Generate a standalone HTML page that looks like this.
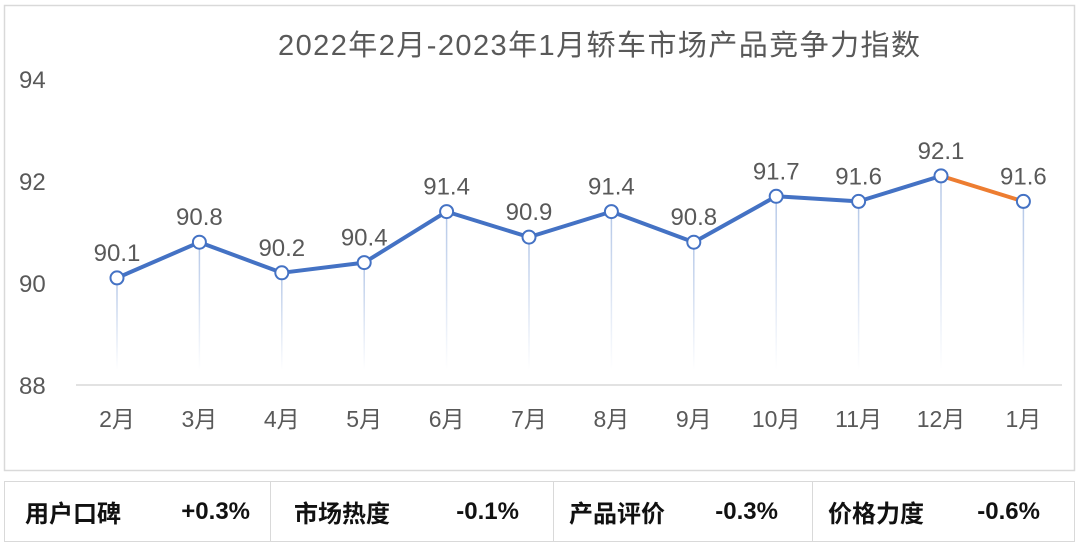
<!DOCTYPE html><html><head><meta charset="utf-8"><style>
body{margin:0;width:1080px;height:548px;background:#fff;overflow:hidden;font-family:"Liberation Sans","Noto Sans CJK SC",sans-serif}
.t{position:absolute;top:481px;height:61px;display:flex;align-items:center;font-size:24px;font-weight:bold;color:#111;border:1px solid #d9d9d9;box-sizing:border-box}
</style></head><body>
<svg width="1080" height="548" style="position:absolute;left:0;top:0">
<defs><linearGradient id="g" x1="0" y1="0" x2="0" y2="1"><stop offset="0" stop-color="#b4c7e7"/><stop offset="1" stop-color="#b4c7e7" stop-opacity="0"/></linearGradient></defs>
<rect x="4.5" y="5.5" width="1070" height="465" fill="#fff" stroke="#d9d9d9" stroke-width="1.5"/>
<text x="599" y="55" font-size="29" fill="#595959" text-anchor="middle" textLength="642" font-family="Liberation Sans,Noto Sans CJK SC,sans-serif">2022年2月-2023年1月轿车市场产品竞争力指数</text>
<g font-size="24" fill="#595959" font-family="Liberation Sans,sans-serif">
<text x="19" y="88">94</text><text x="19" y="190">92</text><text x="19" y="292">90</text><text x="19" y="394">88</text></g>
<line x1="76" y1="385" x2="1062" y2="385" stroke="#d9d9d9" stroke-width="1.5"/>
<g id="d"></g>
</svg>
<div class="t" style="left:4px;width:267px;justify-content:space-between;padding:0 20px"><span>用户口碑</span><span>+0.3%</span></div>
<div class="t" style="left:270px;width:284px;justify-content:space-between;padding:0 34px 0 24px;border-left:none"><span>市场热度</span><span>-0.1%</span></div>
<div class="t" style="left:553px;width:260px;justify-content:space-between;padding:0 34px 0 16px;border-left:none"><span>产品评价</span><span>-0.3%</span></div>
<div class="t" style="left:812px;width:263px;justify-content:space-between;padding:0 34px 0 16px;border-left:none"><span>价格力度</span><span>-0.6%</span></div>
<script>
var v=[90.1,90.8,90.2,90.4,91.4,90.9,91.4,90.8,91.7,91.6,92.1,91.6],m=["2月","3月","4月","5月","6月","7月","8月","9月","10月","11月","12月","1月"];
var s="",p=[];
for(var i=0;i<12;i++){var x=117+i*82.4,y=283-(v[i]-90)*51;p.push([x,y]);
s+='<rect x="'+(x-0.75)+'" y="'+y+'" width="1.5" height="'+(370-y)+'" fill="url(#g)"/>';
s+='<text x="'+x+'" y="427" font-size="23" fill="#595959" text-anchor="middle">'+m[i]+'</text>';
s+='<text x="'+x+'" y="'+(y-17)+'" font-size="24" fill="#595959" text-anchor="middle" font-family="Liberation Sans,sans-serif">'+v[i].toFixed(1)+'</text>';}
var pts=p.slice(0,11).map(function(a){return a.join(",")}).join(" ");
s+='<polyline points="'+pts+'" fill="none" stroke="#4472c4" stroke-width="4" stroke-linejoin="round"/>';
s+='<line x1="'+p[10][0]+'" y1="'+p[10][1]+'" x2="'+p[11][0]+'" y2="'+p[11][1]+'" stroke="#ed7d31" stroke-width="4"/>';
for(i=0;i<12;i++)s+='<circle cx="'+p[i][0]+'" cy="'+p[i][1]+'" r="6.5" fill="#fff" stroke="#4472c4" stroke-width="2"/>';
document.getElementById("d").innerHTML=s;
</script>
</body></html>
